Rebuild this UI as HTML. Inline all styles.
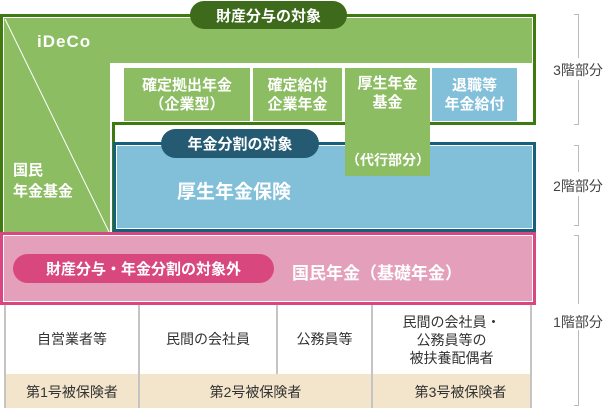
<!DOCTYPE html>
<html><head><meta charset="utf-8"><style>
*{margin:0;padding:0;box-sizing:border-box}
body{width:614px;height:408px;background:#fff;position:relative;overflow:hidden;font-family:"Liberation Sans","Noto Sans CJK JP",sans-serif}
.a{position:absolute}
.w{color:#fff;font-weight:bold}
.c{display:flex;align-items:center;justify-content:center;text-align:center}
.t{color:#333;font-size:14px;line-height:18px}
</style></head><body>
<div class="a" style="left:0;top:14px;width:536px;height:111px;background:#3f7a10"></div>
<div class="a" style="left:0;top:120px;width:115px;height:119px;background:#3f7a10"></div>
<div class="a" style="left:3px;top:17px;width:530px;height:105px;background:#fff"></div>
<div class="a" style="left:3px;top:17px;width:109px;height:218px;background:#fff"></div>
<div class="a" style="left:4px;top:18px;width:528px;height:45px;background:#8cbd62"></div>
<div class="a" style="left:4px;top:18px;width:106px;height:216px;background:#8cbd62"></div>
<svg class="a" style="left:0;top:0" width="614" height="408"><line x1="5" y1="19" x2="110" y2="234" stroke="#fff" stroke-width="1"/></svg>
<div class="a w" style="left:37px;top:32px;font-size:17px;color:#fff;letter-spacing:1px">iDeCo</div>
<div class="a w" style="left:13px;top:160px;font-size:15px;line-height:21px">国民<br>年金基金</div>
<div class="a c w" style="left:124px;top:68px;width:126px;height:53px;background:#8cbd62;font-size:15px;line-height:19px">確定拠出年金<br>（企業型）</div>
<div class="a c w" style="left:253px;top:68px;width:89px;height:53px;background:#8cbd62;font-size:15px;line-height:19px">確定給付<br>企業年金</div>
<div class="a c w" style="left:432px;top:68px;width:85px;height:53px;background:#82bfd9;font-size:15px;line-height:19px">退職等<br>年金給付</div>
<div class="a" style="left:113px;top:142px;width:423px;height:90px;background:#16607e"></div>
<div class="a" style="left:116px;top:145px;width:417px;height:84px;background:#fff"></div>
<div class="a" style="left:117px;top:146px;width:415px;height:82px;background:#82bfd9"></div>
<div class="a w" style="left:177px;top:177px;font-size:19px">厚生年金保険</div>
<div class="a c w" style="left:345px;top:68px;width:85px;height:108px;background:#8cbd62;font-size:15px;line-height:19px;align-items:flex-start;padding-top:6px">厚生年金<br>基金</div>
<div class="a c w" style="left:338px;top:151px;width:100px;height:18px;font-size:14px">（代行部分）</div>
<div class="a c w" style="left:190px;top:1px;width:157px;height:28px;border-radius:14px;background:#3d6a1b;font-size:15px">財産分与の対象</div>
<div class="a c w" style="left:161px;top:129px;width:158px;height:29px;border-radius:15px;background:#245b73;font-size:15px">年金分割の対象</div>
<div class="a" style="left:0;top:232px;width:536px;height:73px;background:#d94681"></div>
<div class="a" style="left:3px;top:235px;width:530px;height:67px;background:#fff"></div>
<div class="a" style="left:4px;top:236px;width:528px;height:65px;background:#e4a0bb"></div>
<div class="a c w" style="left:13px;top:254px;width:261px;height:29px;border-radius:15px;background:#d9477f;font-size:15px">財産分与・年金分割の対象外</div>
<div class="a w" style="left:292px;top:259px;font-size:17px">国民年金（基礎年金）</div>
<div class="a" style="left:5px;top:374px;width:527px;height:34px;background:#f3e5cb"></div>
<div class="a" style="left:4px;top:305px;width:2px;height:103px;background:#c4c4c4"></div>
<div class="a" style="left:138px;top:305px;width:2px;height:103px;background:#c4c4c4"></div>
<div class="a" style="left:276px;top:305px;width:2px;height:69px;background:#c4c4c4"></div>
<div class="a" style="left:371px;top:305px;width:2px;height:103px;background:#c4c4c4"></div>
<div class="a" style="left:530px;top:305px;width:2px;height:103px;background:#c4c4c4"></div>
<div class="a c t" style="left:6px;top:330px;width:132px">自営業者等</div>
<div class="a c t" style="left:140px;top:330px;width:136px">民間の会社員</div>
<div class="a c t" style="left:278px;top:330px;width:93px">公務員等</div>
<div class="a c t" style="left:373px;top:313px;width:157px">民間の会社員・<br>公務員等の<br>被扶養配偶者</div>
<div class="a c t" style="left:6px;top:383px;width:132px">第1号被保険者</div>
<div class="a c t" style="left:140px;top:383px;width:231px">第2号被保険者</div>
<div class="a c t" style="left:373px;top:383px;width:175px">第3号被保険者</div>
<svg class="a" style="left:0;top:0" width="614" height="408" stroke="#bbb" stroke-width="1" fill="none">
<path d="M574 14.5H578.5V58M578.5 80V124.5H574"/>
<path d="M574 145.5H578.5V172M578.5 196V225.5H574"/>
<path d="M574 235.5H578.5V304M578.5 330V405.5H574"/>
</svg>
<div class="a c t" style="left:548px;top:61px;width:60px;color:#444">3階部分</div>
<div class="a c t" style="left:548px;top:177px;width:60px;color:#444">2階部分</div>
<div class="a c t" style="left:548px;top:313px;width:60px;color:#444">1階部分</div>
</body></html>
